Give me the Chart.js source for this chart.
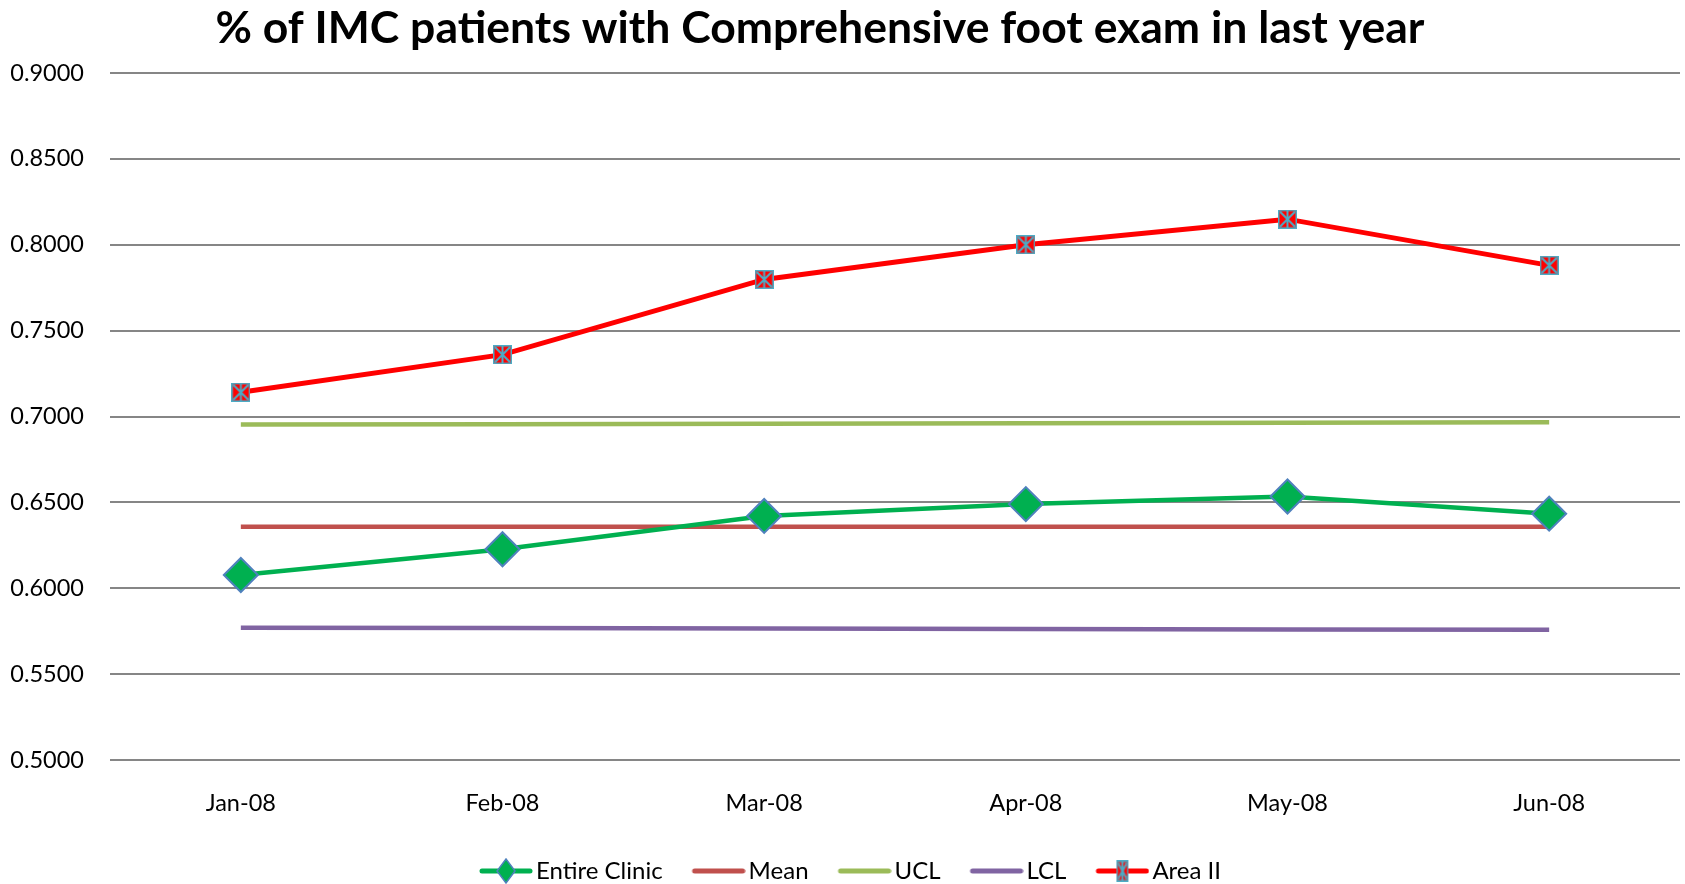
<!DOCTYPE html>
<html>
<head>
<meta charset="utf-8">
<script src="https://cdn.jsdelivr.net/npm/chart.js@4"></script>
<style>
  html, body { margin: 0; padding: 0; background: #fff; }
  #wrap { width: 1685px; height: 884px; }
</style>
</head>
<body>
<div id="wrap"><canvas id="myChart" width="1685" height="884"></canvas></div>
<script>
// data
const months = ["Jan-08", "Feb-08", "Mar-08", "Apr-08", "May-08", "Jun-08"];
const entireClinic = [0.6077, 0.6227, 0.6421, 0.6490, 0.6534, 0.6434];
const meanLine = [0.6358, 0.6358, 0.6358, 0.6358, 0.6358, 0.6358];
const uclLine = [0.6953, 0.6955, 0.6958, 0.6960, 0.6963, 0.6966];
const lclLine = [0.5770, 0.5768, 0.5766, 0.5763, 0.5760, 0.5758];
const areaII = [0.7141, 0.7360, 0.7798, 0.8000, 0.8149, 0.7880];

const TITLE = "% of IMC patients with Comprehensive foot exam in last year";
const FONT = "Lato, 'Liberation Sans', sans-serif";

// red square with a light blue star, like the Excel marker
function starSquare(size) {
    const c = document.createElement("canvas");
    c.width = size; c.height = size;
    const g = c.getContext("2d");
    g.fillStyle = "#FF0000";
    g.fillRect(0, 0, size, size);
    g.strokeStyle = "#4BACC6";
    g.lineWidth = 1.5;
    g.strokeRect(0.75, 0.75, size - 1.5, size - 1.5);
    g.lineWidth = 2;
    g.beginPath();
    g.moveTo(2, 2); g.lineTo(size - 2, size - 2);
    g.moveTo(size - 2, 2); g.lineTo(2, size - 2);
    g.moveTo(size / 2, 1); g.lineTo(size / 2, size - 1);
    g.stroke();
    return c;
}

// legend swatch: a short line with the series marker on it
// (LPAD of empty space on the left nudges the legend row to the right)
const LPAD = 29;
function legendIcon(color, marker) {
    const w = 54, h = 26;
    const c = document.createElement("canvas");
    c.width = w + LPAD; c.height = h;
    const g = c.getContext("2d");
    g.translate(LPAD, 0);
    g.strokeStyle = color;
    g.lineWidth = 5;
    g.lineCap = "round";
    g.beginPath();
    g.moveTo(3, h / 2); g.lineTo(w - 3, h / 2);
    g.stroke();
    if (marker == "diamond") {
        g.fillStyle = "#00B050";
        g.strokeStyle = "#4F81BD";
        g.lineWidth = 1.5;
        g.beginPath();
        g.moveTo(w / 2, 1); g.lineTo(w / 2 + 9, h / 2);
        g.lineTo(w / 2, h - 1); g.lineTo(w / 2 - 9, h / 2);
        g.closePath();
        g.fill(); g.stroke();
    } else if (marker == "star") {
        g.drawImage(starSquare(14), w / 2 - 6, 2, 12, h - 4);
    }
    return c;
}

const icons = [
    legendIcon("#00B050", "diamond"),
    legendIcon("#C0504D"),
    legendIcon("#9BBB59"),
    legendIcon("#8064A2"),
    legendIcon("#FF0000", "star")
];

// title drawn by hand so it can sit a little left of centre, as in the original
const titleDraw = {
    id: "titleDraw",
    afterDraw: function (chart) {
        const ctx = chart.ctx;
        ctx.save();
        ctx.font = "bold 44.5px " + FONT;
        ctx.fillStyle = "#000";
        ctx.textAlign = "center";
        ctx.textBaseline = "middle";
        ctx.fillText(TITLE, 820, 29);
        ctx.restore();
    }
};

const data = {
    labels: months,
    datasets: [
        {
            label: "Entire Clinic",
            data: entireClinic,
            borderColor: "#00B050",
            backgroundColor: "#00B050",
            borderWidth: 4.5,
            pointStyle: "rectRot",
            pointRadius: 17,
            pointHoverRadius: 17,
            pointBackgroundColor: "#00B050",
            pointBorderColor: "#4F81BD",
            pointBorderWidth: 2,
            order: 2
        },
        {
            label: "Mean",
            data: meanLine,
            borderColor: "#C0504D",
            borderWidth: 4.5,
            pointRadius: 0,
            order: 4
        },
        {
            label: "UCL",
            data: uclLine,
            borderColor: "#9BBB59",
            borderWidth: 4.5,
            pointRadius: 0,
            order: 5
        },
        {
            label: "LCL",
            data: lclLine,
            borderColor: "#8064A2",
            borderWidth: 4.5,
            pointRadius: 0,
            order: 6
        },
        {
            label: "Area II",
            data: areaII,
            borderColor: "#FF0000",
            borderWidth: 5,
            pointStyle: starSquare(19),
            pointRadius: 10,
            order: 1
        }
    ]
};

const config = {
    type: "line",
    data: data,
    plugins: [titleDraw],
    options: {
        responsive: false,
        animation: false,
        layout: { autoPadding: false, padding: { left: 0, right: 5, top: 0, bottom: -9 } },
        plugins: {
            title: {
                display: true,
                text: TITLE,
                color: "rgba(0,0,0,0)",
                font: { family: FONT, size: 44.5, weight: "bold" },
                padding: { top: 2, bottom: 17.6 }
            },
            legend: {
                position: "bottom",
                labels: {
                    color: "#000",
                    font: { family: FONT, size: 24 },
                    usePointStyle: true,
                    pointStyleWidth: 36 + LPAD,
                    padding: 38 - LPAD,
                    generateLabels: function (chart) {
                        return chart.data.datasets.map(function (ds, i) {
                            return {
                                text: ds.label,
                                pointStyle: icons[i],
                                fillStyle: ds.borderColor,
                                strokeStyle: ds.borderColor,
                                lineWidth: 0,
                                hidden: false,
                                datasetIndex: i,
                                fontColor: "#000"
                            };
                        });
                    }
                }
            },
            tooltip: { enabled: false }
        },
        scales: {
            x: {
                offset: true,
                afterFit: function (scale) { scale.height = 61 + LPAD; },
                grid: { display: false, drawTicks: false },
                border: { display: false },
                ticks: { color: "#000", font: { family: FONT, size: 23.5 }, padding: 29 }
            },
            y: {
                min: 0.5,
                max: 0.9,
                afterFit: function (scale) { scale.width = 110; },
                grid: { color: "#868686", lineWidth: 2, drawTicks: false },
                border: { display: false },
                ticks: {
                    stepSize: 0.05,
                    color: "#000",
                    padding: 26,
                    font: { family: FONT, size: 23.5 },
                    callback: function (v) { return v.toFixed(4); }
                }
            }
        }
    }
};

window.mychart = new Chart(document.getElementById("myChart"), config);
</script>
</body>
</html>
